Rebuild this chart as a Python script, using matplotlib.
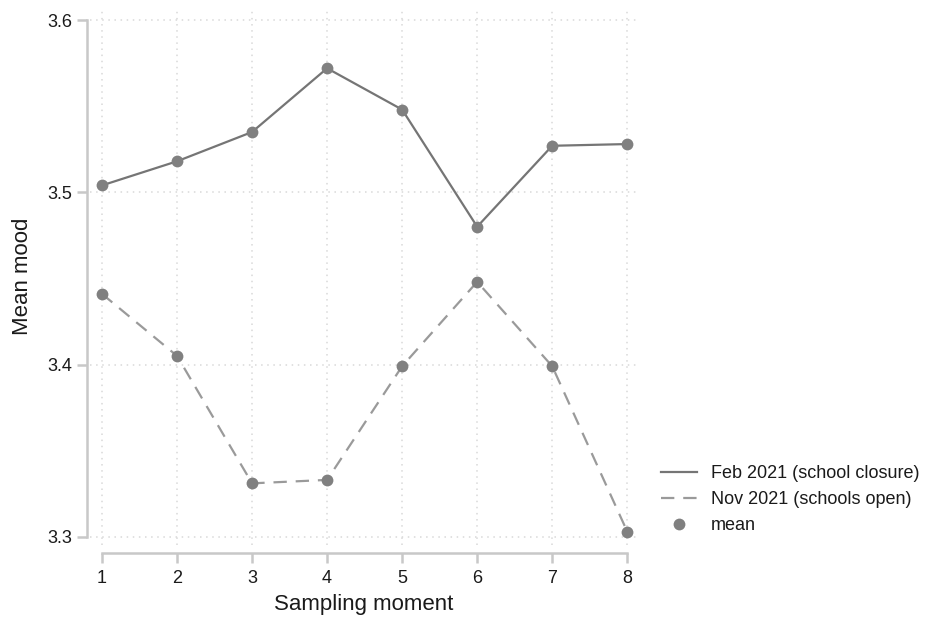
import matplotlib.pyplot as plt

plt.rcParams['font.family'] = ['Liberation Sans', 'DejaVu Sans']

# Data
moments = [1, 2, 3, 4, 5, 6, 7, 8]
feb_2021 = [3.504, 3.518, 3.535, 3.572, 3.548, 3.480, 3.527, 3.528]
nov_2021 = [3.441, 3.405, 3.331, 3.333, 3.399, 3.448, 3.399, 3.303]
y_ticks = [3.3, 3.4, 3.5, 3.6]

line_col = '#757575'
dash_col = '#9a9a9a'
dot_col = '#808080'
spine_col = '#c8c8c8'
text_col = '#1a1a1a'

fig = plt.figure(figsize=(9.32, 6.22), dpi=100)
ax = fig.add_axes([90 / 932, 1 - 545 / 622, (637 - 90) / 932, (545 - 8) / 622])

ax.plot(moments, feb_2021, color=line_col, lw=1.6, label='Feb 2021 (school closure)', zorder=3)
ax.plot(moments, nov_2021, color=dash_col, lw=1.6, ls=(0, (6, 4)), label='Nov 2021 (schools open)', zorder=3)
ax.plot(moments, feb_2021, 'o', color=dot_col, ms=8.5, mec='none', label='mean', zorder=4)
ax.plot(moments, nov_2021, 'o', color=dot_col, ms=8.5, mec='none', zorder=4)

ax.set_xlim(0.84, 8.13)
ax.set_ylim(3.2952, 3.607)
ax.set_xticks(moments)
ax.set_yticks(y_ticks)
ax.set_yticklabels([f'{v:.1f}' for v in y_ticks])

ax.grid(True, ls=(0, (1, 3)), color='#d9d9d9', lw=1.1)
ax.set_axisbelow(True)

for s in ['top', 'right']:
    ax.spines[s].set_visible(False)
ax.spines['left'].set_position(('outward', 2))
ax.spines['bottom'].set_position(('outward', 6))
ax.spines['left'].set_bounds(3.3, 3.6)
ax.spines['bottom'].set_bounds(1, 8)
for s in ['left', 'bottom']:
    ax.spines[s].set_color(spine_col)
    ax.spines[s].set_linewidth(1.8)

ax.tick_params(axis='both', colors=spine_col, width=1.8, length=7, labelcolor=text_col, labelsize=13)
ax.tick_params(axis='y', pad=4)
ax.tick_params(axis='x', pad=5)

ax.set_xlabel('Sampling moment', fontsize=16, color=text_col, labelpad=5)
ax.set_ylabel('Mean mood', fontsize=16, color=text_col, labelpad=10)

fig.legend(loc='upper left', bbox_to_anchor=(661 / 932, 1 - 465 / 622), frameon=False,
           fontsize=13, handlelength=2.0, handletextpad=0.75, labelspacing=0.5,
           borderpad=0, borderaxespad=0, labelcolor=text_col)

fig.savefig('out.png', dpi=100)
